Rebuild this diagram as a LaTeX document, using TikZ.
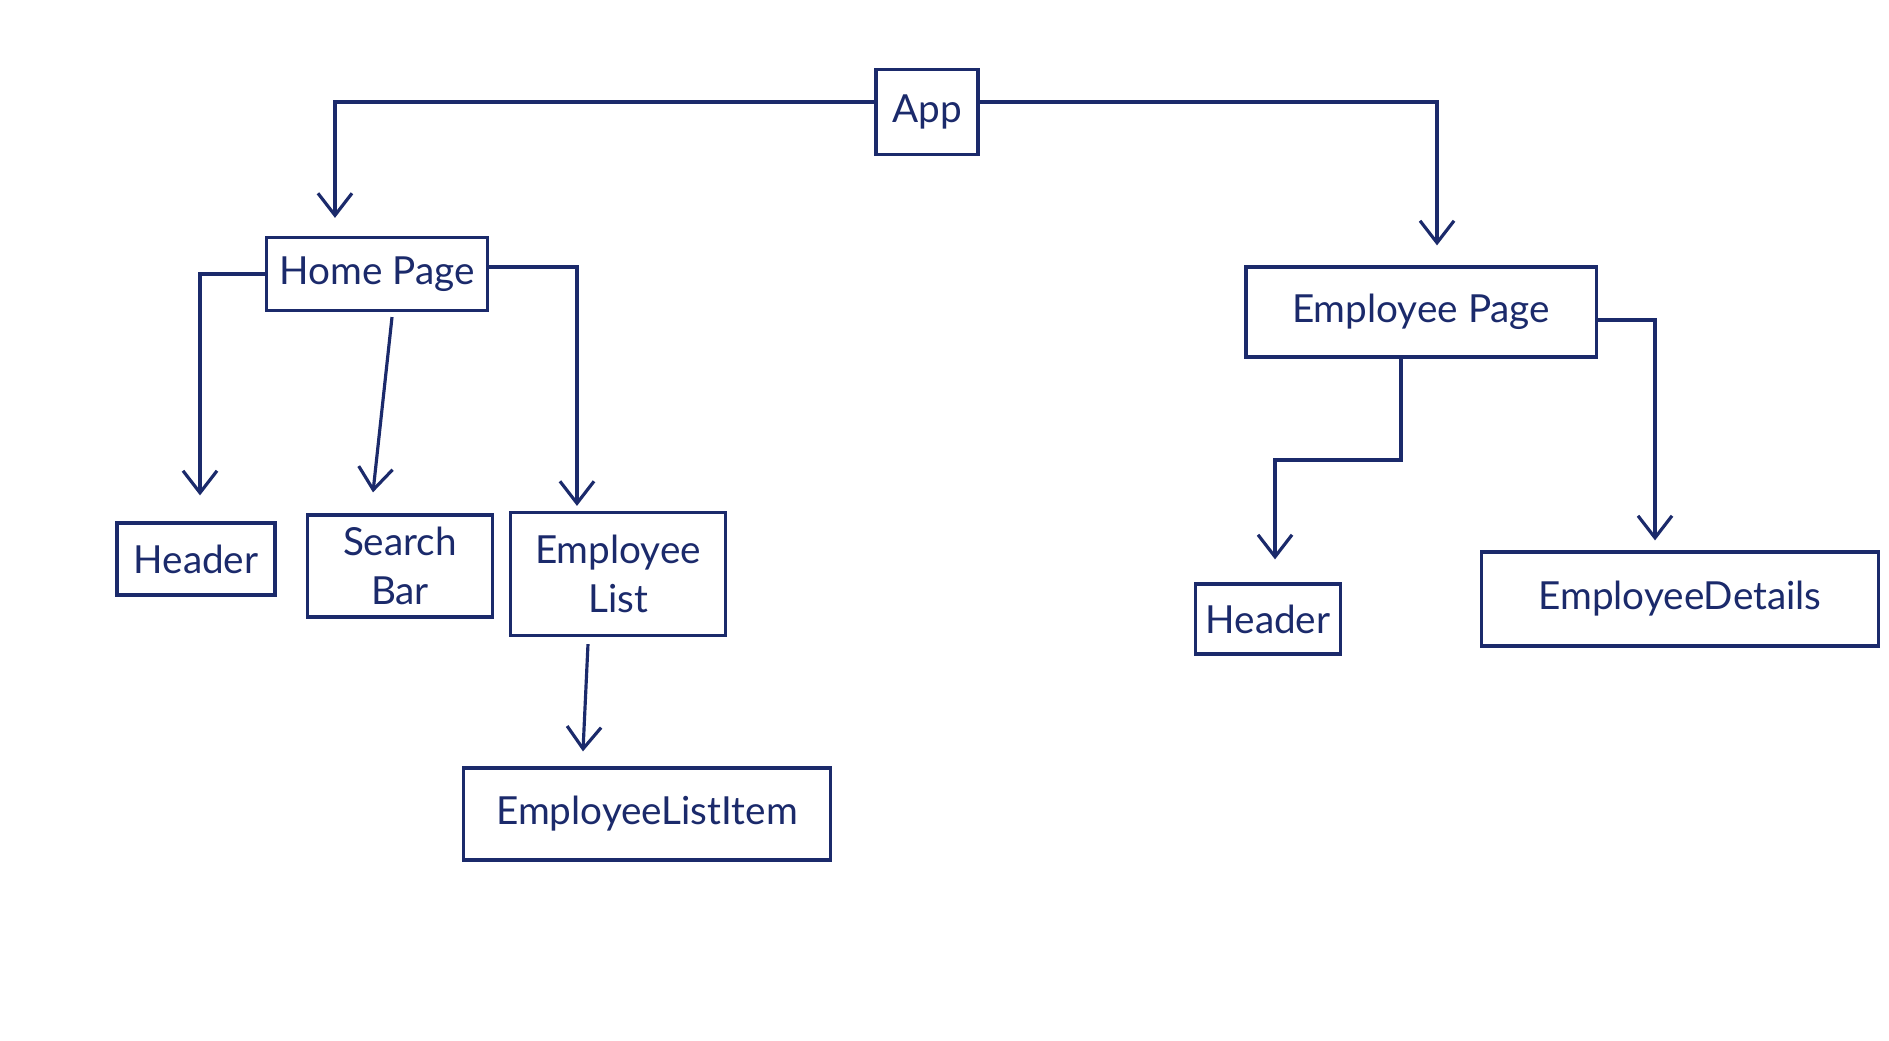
\documentclass[tikz,border=0pt]{standalone}
\usepackage{xcolor}
\usepackage{tikz}
\usetikzlibrary{arrows.meta}
\usepackage{fontspec}
\setmainfont{Lato}
\definecolor{ink}{HTML}{1B2A6B}

\begin{document}
\begin{tikzpicture}[x=0.01cm,y=-0.01cm,
  box/.style={draw=ink,line width=0.9pt,text=ink,inner sep=0pt,align=center,
    font=\fontsize{11}{14}\selectfont},
  link/.style={draw=ink,line width=0.9pt,-{Straight Barb[length=2.2mm,width=3.4mm]}}]
\useasboundingbox[fill=white] (0,0) rectangle (1889,1040);
% boxes
\node[box,minimum width=1.02cm,minimum height=0.85cm] (app) at (927,112) {App};
\node[box,minimum width=2.21cm,minimum height=0.73cm] (home) at (377,274) {Home Page};
\node[box,minimum width=3.50cm,minimum height=0.90cm] (epage) at (1421,312) {Employee Page};
\node[box,minimum width=1.58cm,minimum height=0.72cm] (headA) at (196,559) {Header};
\node[box,minimum width=1.85cm,minimum height=1.02cm] (search) at (400,566) {Search\\Bar};
\node[box,minimum width=2.15cm,minimum height=1.23cm] (elist) at (618,574) {Employee\\List};
\node[box,minimum width=3.67cm,minimum height=0.92cm] (item) at (647,814) {EmployeeListItem};
\node[box,minimum width=1.45cm,minimum height=0.70cm] (headB) at (1268,619) {Header};
\node[box,minimum width=3.97cm,minimum height=0.94cm] (details) at (1680,599) {EmployeeDetails};
% links
\draw[link,shorten >=1.8mm] ([yshift=1mm]app.west) -| ([xshift=-4.2mm]home.north);
\draw[link,shorten >=2mm] ([yshift=1mm]app.east) -| ([xshift=1.6mm]epage.north);
\draw[link,shorten >=2.6mm] (home.west) -| ([xshift=0.4mm]headA.north);
\draw[link] ([xshift=1.5mm,yshift=-0.5mm]home.south) -- ([xshift=-2.7mm,yshift=2.1mm]search.north);
\draw[link,shorten >=0.5mm] ([yshift=0.7mm]home.east) -| ([xshift=-4.1mm]elist.north);
\draw[link] ([xshift=-3mm,yshift=-0.7mm]elist.south) -- ([xshift=-6.4mm,yshift=1.5mm]item.north);
\coordinate (bend) at (1340,460);
\draw[link,shorten >=2.3mm] ([xshift=-2mm]epage.south) |- (bend) -| ([xshift=0.7mm]headB.north);
\draw[link,shorten >=1mm] ([yshift=-0.8mm]epage.east) -| ([xshift=-2.5mm]details.north);
\end{tikzpicture}
\end{document}
